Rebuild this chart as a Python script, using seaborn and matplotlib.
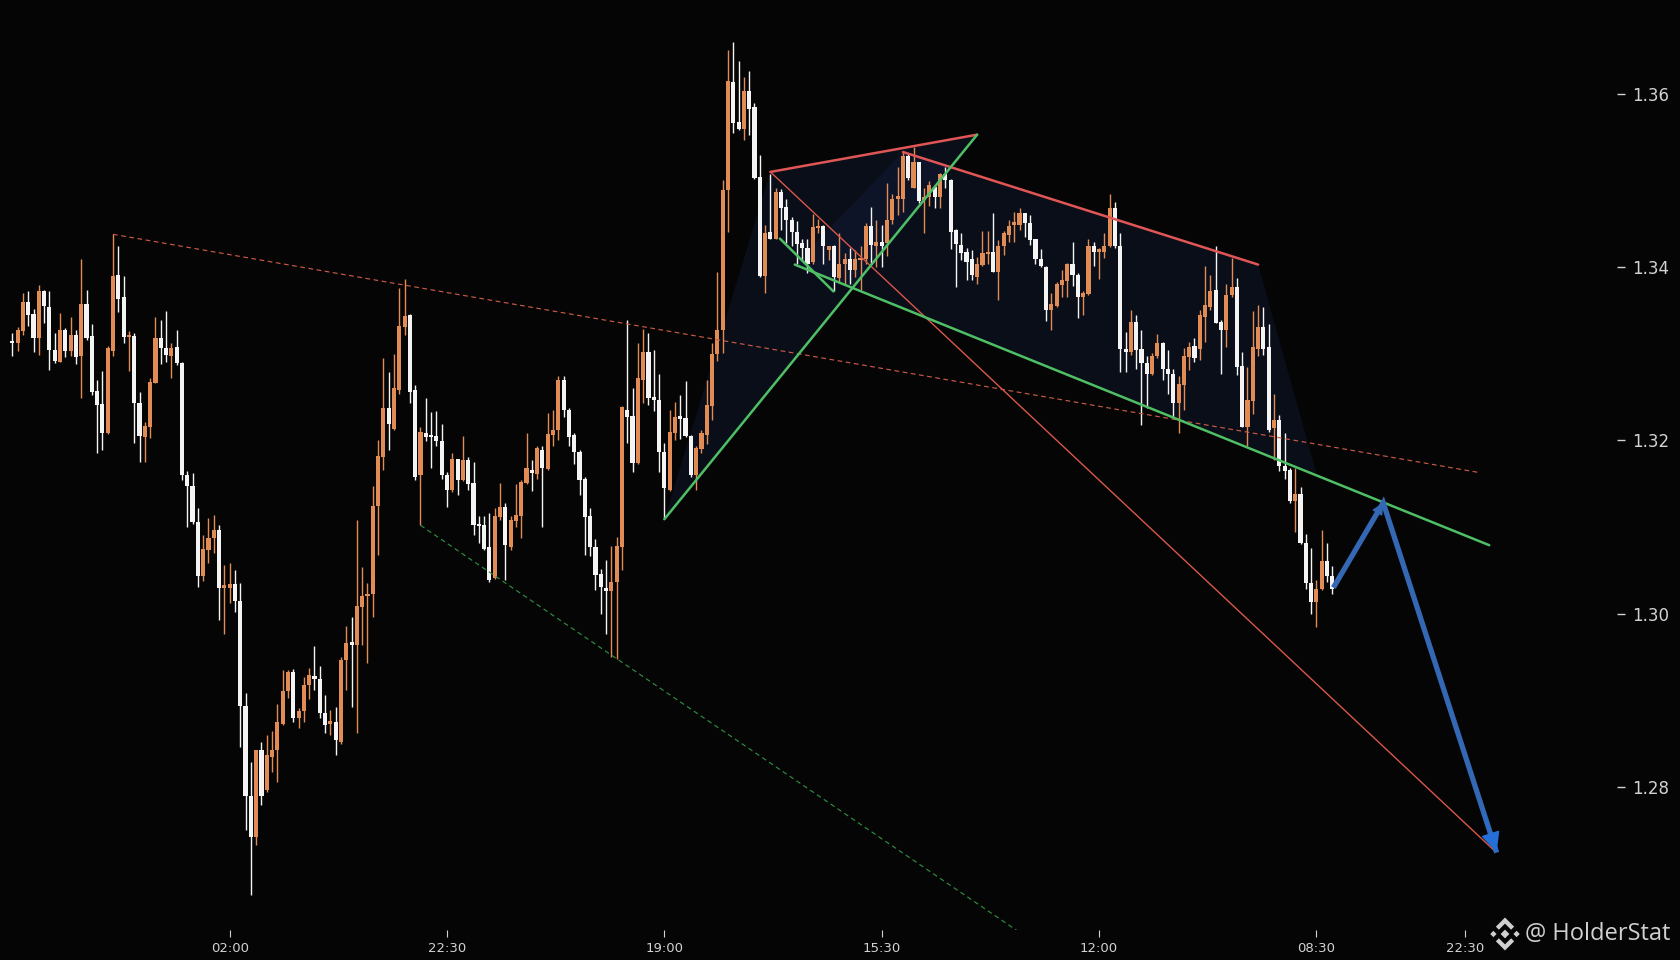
import numpy as np
import matplotlib
matplotlib.use("Agg")
import matplotlib.pyplot as plt
import seaborn as sns
from matplotlib.patches import Polygon

# ---------------- data (30-minute candles) ----------------
open_ = [
    1.3315, 1.3312, 1.3326, 1.3360, 1.3346, 1.3318, 1.3372, 1.3354, 1.3304, 1.3291,
    1.3327, 1.3303, 1.3322, 1.3297, 1.3358, 1.3320, 1.3257, 1.3242, 1.3209, 1.3303,
    1.3391, 1.3365, 1.3319, 1.3321, 1.3243, 1.3204, 1.3216, 1.3266, 1.3318, 1.3307,
    1.3298, 1.3308, 1.3289, 1.3160, 1.3147, 1.3106, 1.3044, 1.3074, 1.3087, 1.3097,
    1.3030, 1.3030, 1.3034, 1.3014, 1.2893, 1.2789, 1.2742, 1.2842, 1.2796, 1.2835,
    1.2842, 1.2873, 1.2911, 1.2933, 1.2879, 1.2887, 1.2918, 1.2927, 1.2925, 1.2885,
    1.2873, 1.2875, 1.2852, 1.2946, 1.2966, 1.2964, 1.3008, 1.3020, 1.3023, 1.3124,
    1.3181, 1.3237, 1.3213, 1.3258, 1.3331, 1.3345, 1.3258, 1.3160, 1.3209, 1.3206,
    1.3205, 1.3199, 1.3160, 1.3143, 1.3178, 1.3154, 1.3177, 1.3151, 1.3103, 1.3102,
    1.3077, 1.3041, 1.3112, 1.3123, 1.3077, 1.3107, 1.3113, 1.3151, 1.3166, 1.3161,
    1.3189, 1.3167, 1.3206, 1.3212, 1.3270, 1.3235, 1.3206, 1.3187, 1.3155, 1.3113,
    1.3077, 1.3046, 1.3030, 1.3026, 1.3036, 1.3077, 1.3235, 1.3228, 1.3174, 1.3270,
    1.3302, 1.3249, 1.3247, 1.3187, 1.3143, 1.3209, 1.3227, 1.3226, 1.3205, 1.3160,
    1.3190, 1.3206, 1.3240, 1.3300, 1.3327, 1.3489, 1.3614, 1.3568, 1.3560, 1.3604,
    1.3585, 1.3504, 1.3390, 1.3441, 1.3433, 1.3487, 1.3469, 1.3454, 1.3441, 1.3428,
    1.3422, 1.3406, 1.3445, 1.3447, 1.3420, 1.3424, 1.3387, 1.3404, 1.3409, 1.3397,
    1.3408, 1.3409, 1.3448, 1.3424, 1.3429, 1.3428, 1.3454, 1.3479, 1.3479, 1.3528,
    1.3492, 1.3521, 1.3477, 1.3481, 1.3493, 1.3481, 1.3508, 1.3501, 1.3443, 1.3426,
    1.3417, 1.3409, 1.3389, 1.3403, 1.3415, 1.3418, 1.3395, 1.3424, 1.3437, 1.3449,
    1.3449, 1.3462, 1.3451, 1.3432, 1.3410, 1.3400, 1.3350, 1.3355, 1.3379, 1.3384,
    1.3404, 1.3391, 1.3365, 1.3369, 1.3424, 1.3418, 1.3418, 1.3424, 1.3468, 1.3424,
    1.3305, 1.3302, 1.3337, 1.3306, 1.3289, 1.3277, 1.3297, 1.3313, 1.3283, 1.3277,
    1.3243, 1.3264, 1.3296, 1.3309, 1.3306, 1.3343, 1.3354, 1.3374, 1.3337, 1.3328,
    1.3368, 1.3377, 1.3286, 1.3216, 1.3245, 1.3306, 1.3331, 1.3308, 1.3214, 1.3223,
    1.3170, 1.3166, 1.3130, 1.3138, 1.3082, 1.3035, 1.3013, 1.3029, 1.3061, 1.3043,
]
high = [
    1.3324, 1.3331, 1.3370, 1.3372, 1.3352, 1.3380, 1.3374, 1.3373, 1.3324, 1.3347,
    1.3330, 1.3343, 1.3327, 1.3409, 1.3374, 1.3334, 1.3270, 1.3280, 1.3309, 1.3438,
    1.3424, 1.3390, 1.3326, 1.3324, 1.3256, 1.3221, 1.3272, 1.3342, 1.3339, 1.3349,
    1.3312, 1.3327, 1.3290, 1.3165, 1.3162, 1.3122, 1.3091, 1.3110, 1.3114, 1.3102,
    1.3056, 1.3059, 1.3050, 1.3035, 1.2908, 1.2829, 1.2843, 1.2852, 1.2860, 1.2864,
    1.2896, 1.2935, 1.2935, 1.2936, 1.2891, 1.2927, 1.2937, 1.2963, 1.2939, 1.2906,
    1.2889, 1.2892, 1.2950, 1.2986, 1.2996, 1.3108, 1.3054, 1.3035, 1.3147, 1.3201,
    1.3295, 1.3279, 1.3300, 1.3376, 1.3386, 1.3346, 1.3264, 1.3216, 1.3249, 1.3233,
    1.3234, 1.3219, 1.3164, 1.3186, 1.3179, 1.3205, 1.3181, 1.3175, 1.3113, 1.3113,
    1.3116, 1.3122, 1.3151, 1.3128, 1.3113, 1.3150, 1.3154, 1.3209, 1.3177, 1.3193,
    1.3193, 1.3232, 1.3235, 1.3274, 1.3274, 1.3237, 1.3208, 1.3189, 1.3158, 1.3122,
    1.3086, 1.3051, 1.3062, 1.3078, 1.3088, 1.3240, 1.3339, 1.3260, 1.3312, 1.3329,
    1.3324, 1.3304, 1.3277, 1.3197, 1.3235, 1.3244, 1.3252, 1.3269, 1.3206, 1.3193,
    1.3212, 1.3270, 1.3312, 1.3395, 1.3501, 1.3651, 1.3660, 1.3638, 1.3620, 1.3627,
    1.3589, 1.3530, 1.3449, 1.3508, 1.3491, 1.3490, 1.3479, 1.3458, 1.3453, 1.3432,
    1.3433, 1.3461, 1.3456, 1.3449, 1.3425, 1.3426, 1.3440, 1.3416, 1.3422, 1.3420,
    1.3424, 1.3451, 1.3470, 1.3455, 1.3449, 1.3497, 1.3485, 1.3516, 1.3533, 1.3532,
    1.3539, 1.3522, 1.3491, 1.3499, 1.3495, 1.3509, 1.3516, 1.3502, 1.3444, 1.3439,
    1.3422, 1.3420, 1.3412, 1.3442, 1.3442, 1.3463, 1.3431, 1.3442, 1.3455, 1.3464,
    1.3468, 1.3463, 1.3460, 1.3433, 1.3421, 1.3401, 1.3370, 1.3383, 1.3397, 1.3405,
    1.3429, 1.3393, 1.3372, 1.3432, 1.3429, 1.3422, 1.3439, 1.3485, 1.3475, 1.3439,
    1.3325, 1.3351, 1.3345, 1.3327, 1.3297, 1.3301, 1.3323, 1.3314, 1.3304, 1.3282,
    1.3274, 1.3307, 1.3314, 1.3318, 1.3351, 1.3401, 1.3391, 1.3424, 1.3339, 1.3381,
    1.3411, 1.3388, 1.3302, 1.3285, 1.3349, 1.3356, 1.3354, 1.3334, 1.3254, 1.3229,
    1.3208, 1.3168, 1.3168, 1.3146, 1.3092, 1.3076, 1.3039, 1.3097, 1.3082, 1.3055,
]
low = [
    1.3297, 1.3303, 1.3322, 1.3332, 1.3302, 1.3299, 1.3336, 1.3281, 1.3289, 1.3290,
    1.3296, 1.3298, 1.3288, 1.3249, 1.3316, 1.3253, 1.3186, 1.3189, 1.3207, 1.3298,
    1.3348, 1.3313, 1.3280, 1.3197, 1.3175, 1.3175, 1.3203, 1.3266, 1.3288, 1.3291,
    1.3272, 1.3287, 1.3154, 1.3100, 1.3104, 1.3031, 1.3038, 1.3058, 1.3070, 1.2993,
    1.2977, 1.3012, 1.3002, 1.2846, 1.2750, 1.2675, 1.2733, 1.2779, 1.2794, 1.2817,
    1.2806, 1.2871, 1.2902, 1.2875, 1.2868, 1.2875, 1.2901, 1.2912, 1.2879, 1.2862,
    1.2860, 1.2837, 1.2850, 1.2912, 1.2892, 1.2862, 1.2964, 1.2943, 1.2996, 1.3068,
    1.3166, 1.3189, 1.3212, 1.3254, 1.3322, 1.3243, 1.3154, 1.3102, 1.3199, 1.3168,
    1.3193, 1.3156, 1.3123, 1.3141, 1.3137, 1.3153, 1.3143, 1.3091, 1.3081, 1.3074,
    1.3037, 1.3040, 1.3108, 1.3039, 1.3073, 1.3100, 1.3087, 1.3150, 1.3142, 1.3155,
    1.3100, 1.3166, 1.3193, 1.3201, 1.3227, 1.3193, 1.3173, 1.3137, 1.3068, 1.3066,
    1.3027, 1.3000, 1.2977, 1.2950, 1.2948, 1.3050, 1.3197, 1.3163, 1.3173, 1.3243,
    1.3241, 1.3234, 1.3164, 1.3109, 1.3142, 1.3201, 1.3202, 1.3204, 1.3158, 1.3143,
    1.3185, 1.3196, 1.3224, 1.3292, 1.3301, 1.3441, 1.3555, 1.3558, 1.3547, 1.3553,
    1.3502, 1.3389, 1.3370, 1.3432, 1.3432, 1.3443, 1.3428, 1.3424, 1.3404, 1.3408,
    1.3393, 1.3404, 1.3440, 1.3404, 1.3408, 1.3372, 1.3383, 1.3381, 1.3381, 1.3389,
    1.3374, 1.3404, 1.3404, 1.3400, 1.3400, 1.3413, 1.3450, 1.3460, 1.3464, 1.3501,
    1.3491, 1.3474, 1.3439, 1.3471, 1.3468, 1.3468, 1.3491, 1.3421, 1.3377, 1.3408,
    1.3385, 1.3385, 1.3381, 1.3401, 1.3404, 1.3394, 1.3362, 1.3414, 1.3429, 1.3429,
    1.3443, 1.3435, 1.3426, 1.3404, 1.3400, 1.3338, 1.3328, 1.3354, 1.3366, 1.3365,
    1.3378, 1.3341, 1.3345, 1.3368, 1.3401, 1.3386, 1.3411, 1.3423, 1.3422, 1.3279,
    1.3279, 1.3299, 1.3282, 1.3218, 1.3237, 1.3275, 1.3295, 1.3270, 1.3254, 1.3227,
    1.3208, 1.3235, 1.3281, 1.3291, 1.3293, 1.3314, 1.3351, 1.3335, 1.3277, 1.3308,
    1.3366, 1.3275, 1.3215, 1.3193, 1.3231, 1.3297, 1.3299, 1.3210, 1.3177, 1.3165,
    1.3156, 1.3128, 1.3094, 1.3080, 1.3029, 1.2999, 1.2985, 1.3027, 1.3037, 1.3023,
]
close = [
    1.3312, 1.3327, 1.3360, 1.3345, 1.3318, 1.3372, 1.3355, 1.3304, 1.3292, 1.3327,
    1.3303, 1.3322, 1.3296, 1.3358, 1.3318, 1.3256, 1.3241, 1.3209, 1.3307, 1.3390,
    1.3363, 1.3319, 1.3321, 1.3243, 1.3205, 1.3217, 1.3267, 1.3318, 1.3307, 1.3299,
    1.3307, 1.3289, 1.3160, 1.3147, 1.3106, 1.3044, 1.3075, 1.3087, 1.3097, 1.3030,
    1.3031, 1.3034, 1.3014, 1.2893, 1.2789, 1.2742, 1.2842, 1.2789, 1.2837, 1.2843,
    1.2875, 1.2911, 1.2933, 1.2879, 1.2888, 1.2918, 1.2929, 1.2925, 1.2885, 1.2871,
    1.2875, 1.2854, 1.2947, 1.2966, 1.2964, 1.3009, 1.3020, 1.3023, 1.3124, 1.3182,
    1.3237, 1.3219, 1.3261, 1.3332, 1.3344, 1.3256, 1.3158, 1.3210, 1.3204, 1.3204,
    1.3199, 1.3160, 1.3143, 1.3179, 1.3154, 1.3177, 1.3150, 1.3102, 1.3101, 1.3075,
    1.3039, 1.3113, 1.3123, 1.3079, 1.3108, 1.3114, 1.3152, 1.3168, 1.3162, 1.3191,
    1.3168, 1.3207, 1.3212, 1.3270, 1.3235, 1.3204, 1.3187, 1.3154, 1.3112, 1.3077,
    1.3045, 1.3031, 1.3026, 1.3036, 1.3078, 1.3238, 1.3227, 1.3174, 1.3272, 1.3302,
    1.3249, 1.3247, 1.3187, 1.3145, 1.3210, 1.3227, 1.3225, 1.3205, 1.3160, 1.3191,
    1.3208, 1.3241, 1.3300, 1.3327, 1.3489, 1.3615, 1.3566, 1.3560, 1.3604, 1.3583,
    1.3503, 1.3390, 1.3440, 1.3433, 1.3487, 1.3468, 1.3454, 1.3441, 1.3427, 1.3422,
    1.3404, 1.3446, 1.3446, 1.3424, 1.3424, 1.3389, 1.3404, 1.3409, 1.3397, 1.3409,
    1.3411, 1.3448, 1.3426, 1.3429, 1.3424, 1.3455, 1.3479, 1.3481, 1.3528, 1.3503,
    1.3522, 1.3476, 1.3481, 1.3495, 1.3481, 1.3508, 1.3501, 1.3441, 1.3427, 1.3416,
    1.3406, 1.3391, 1.3404, 1.3416, 1.3417, 1.3395, 1.3424, 1.3439, 1.3448, 1.3451,
    1.3462, 1.3451, 1.3431, 1.3410, 1.3401, 1.3351, 1.3357, 1.3381, 1.3385, 1.3404,
    1.3391, 1.3366, 1.3370, 1.3424, 1.3418, 1.3419, 1.3424, 1.3468, 1.3424, 1.3306,
    1.3302, 1.3337, 1.3304, 1.3289, 1.3277, 1.3297, 1.3313, 1.3282, 1.3277, 1.3243,
    1.3265, 1.3297, 1.3308, 1.3295, 1.3345, 1.3356, 1.3372, 1.3336, 1.3328, 1.3368,
    1.3377, 1.3285, 1.3216, 1.3247, 1.3308, 1.3331, 1.3306, 1.3212, 1.3224, 1.3170,
    1.3165, 1.3130, 1.3138, 1.3082, 1.3035, 1.3013, 1.3029, 1.3061, 1.3043, 1.3029,
]

time_tick_index = [41, 82, 123, 164, 205, 246, 274]
time_tick_labels = ["02:00", "22:30", "19:00", "15:30", "12:00", "08:30", "22:30"]
price_ticks = [1.28, 1.30, 1.32, 1.34, 1.36]

# drawn studies: (bar index, price) pairs
red_dash_x, red_dash_y = [19, 276.6], [1.3438, 1.3163]
green_dash_x, green_dash_y = [77, 114, 190], [1.3102, 1.2948, 1.2632]
red_thin_x, red_thin_y = [143, 279.8], [1.3510, 1.2725]
red_top_a_x, red_top_a_y = [143, 182], [1.3510, 1.3553]
red_top_b_x, red_top_b_y = [168, 235], [1.3533, 1.3403]
green_up_x, green_up_y = [123, 182], [1.3109, 1.3553]
green_short_x, green_short_y = [144.8, 154.9], [1.3433, 1.3372]
green_long_x, green_long_y = [147.6, 278.6], [1.3403, 1.3079]
shade1_x, shade1_y = [123, 143, 182], [1.3109, 1.3510, 1.3553]
shade2_x, shade2_y = [147.6, 168, 235, 246], [1.3403, 1.3533, 1.3403, 1.3162]
arrow_x, arrow_y = [249.2, 258.6, 280.0], [1.3030, 1.3128, 1.2724]

# ---------------- style ----------------
BG = "#050505"
UP = "#e28c55"
DOWN = "#f4f4f4"
TXT = "#d2d2d2"

sns.set_theme(style="dark", rc={
    "figure.facecolor": BG, "axes.facecolor": BG, "savefig.facecolor": BG,
    "axes.edgecolor": BG, "axes.grid": False,
    "xtick.color": TXT, "ytick.color": TXT, "text.color": TXT,
})
plt.rcParams["font.family"] = ["DejaVu Sans"]

fig = plt.figure(figsize=(16.8, 9.6), dpi=100)
ax = fig.add_axes([0.0, 30 / 960, 1617 / 1680, 930 / 960])
ax.set_facecolor(BG)

o = np.array(open_); h = np.array(high); l = np.array(low); c = np.array(close)
idx = np.arange(len(o))
up = c >= o
cols = np.where(up, UP, DOWN)

# shaded pattern areas
ax.fill(shade1_x, shade1_y, color="#16254a", alpha=0.30, lw=0, zorder=0.5)
ax.fill(shade2_x, shade2_y, color="#16254a", alpha=0.30, lw=0, zorder=0.5)

# candles
ax.vlines(idx, np.minimum(l, np.minimum(o, c)), np.maximum(h, np.maximum(o, c)),
          colors=cols, linewidth=1.0, zorder=2)
body_lo = np.minimum(o, c)
body_h = np.maximum(np.abs(c - o), 0.00028)
ax.bar(idx, body_h, bottom=body_lo, width=0.78, color=cols, linewidth=0, zorder=2.2)

# study lines
def line(xs, ys, color, lw, ls="-", z=3):
    sns.lineplot(x=xs, y=ys, ax=ax, color=color, linewidth=lw, linestyle=ls,
                 estimator=None, sort=False, zorder=z)

line(red_dash_x, red_dash_y, "#c95a45", 0.85, ls=(0, (4, 3)))
line(green_dash_x, green_dash_y, "#2f8d3f", 0.85, ls=(0, (4, 3)))
line(red_thin_x, red_thin_y, "#d9574a", 1.0)
line(red_top_a_x, red_top_a_y, "#e05656", 1.8)
line(red_top_b_x, red_top_b_y, "#e05656", 1.8)
line(green_up_x, green_up_y, "#4fbf66", 1.8)
line(green_short_x, green_short_y, "#4fbf66", 1.8)
line(green_long_x, green_long_y, "#4fbf66", 1.8)

# projected path (blue arrows)
SHAFT = "#3468b4"
ax.plot(arrow_x, arrow_y, color=SHAFT, lw=3.8, solid_capstyle="butt",
        solid_joinstyle="miter", zorder=5)
ax.annotate("", xy=(arrow_x[1], arrow_y[1]),
            xytext=(arrow_x[1] - 0.25 * (arrow_x[1] - arrow_x[0]),
                    arrow_y[1] - 0.25 * (arrow_y[1] - arrow_y[0])),
            arrowprops=dict(arrowstyle="-|>,head_length=0.7,head_width=0.35",
                            color=SHAFT, lw=1, shrinkA=0, shrinkB=0, mutation_scale=10),
            zorder=6)
ax.annotate("", xy=(arrow_x[2], arrow_y[2]),
            xytext=(arrow_x[2] - 0.12 * (arrow_x[2] - arrow_x[1]),
                    arrow_y[2] - 0.12 * (arrow_y[2] - arrow_y[1])),
            arrowprops=dict(arrowstyle="-|>,head_length=1.3,head_width=0.6",
                            color="#2470d8", lw=1, shrinkA=0, shrinkB=0, mutation_scale=10),
            zorder=6)

# axes
ax.set_xlim(-2.32, 302.7)
ax.set_ylim(1.26347, 1.37085)
for s in ax.spines.values():
    s.set_visible(False)
ax.set_xlabel(""); ax.set_ylabel("")
ax.set_xticks(time_tick_index)
ax.set_xticklabels(time_tick_labels)
ax.yaxis.tick_right()
ax.set_yticks(price_ticks)
ax.set_yticklabels([f"{v:.2f}" for v in price_ticks])
ax.tick_params(axis="x", bottom=True, top=False, length=5, width=0.8, pad=4,
               labelsize=9.5, colors=TXT, direction="out")
ax.tick_params(axis="y", right=True, left=False, labelright=True, labelleft=False,
               length=6, width=1.0, pad=5, labelsize=12, colors=TXT, direction="out")
ax.grid(False)

# watermark
W, H = 1680.0, 960.0
def fig_poly(pts, cx, cy, k=1.0):
    xy = [((cx + k * dx) / W, 1 - (cy - k * dy) / H) for dx, dy in pts]
    fig.add_artist(Polygon(xy, closed=True, transform=fig.transFigure,
                           facecolor="#d0d0d0", edgecolor="none"))

cx, cy, k = 1505, 934, 1.22
d = 3.6
fig_poly([(0, d), (d, 0), (0, -d), (-d, 0)], cx, cy, k)
for sx in (-9.5, 9.5):
    fig_poly([(sx, 2.6), (sx + 2.6, 0), (sx, -2.6), (sx - 2.6, 0)], cx, cy, k)
chev = [(-7.5, 6.0), (0, 13.5), (7.5, 6.0), (5.0, 3.5), (0, 8.5), (-5.0, 3.5)]
fig_poly(chev, cx, cy, k)
fig_poly([(x, -y) for x, y in chev], cx, cy, k)
fig.text(1525 / W, 1 - 934 / H, "@ HolderStat", ha="left", va="center",
         fontsize=17, color="#d0d0d0", family=["Open Sans", "DejaVu Sans"])

fig.savefig("out.png", dpi=100, facecolor=BG)
